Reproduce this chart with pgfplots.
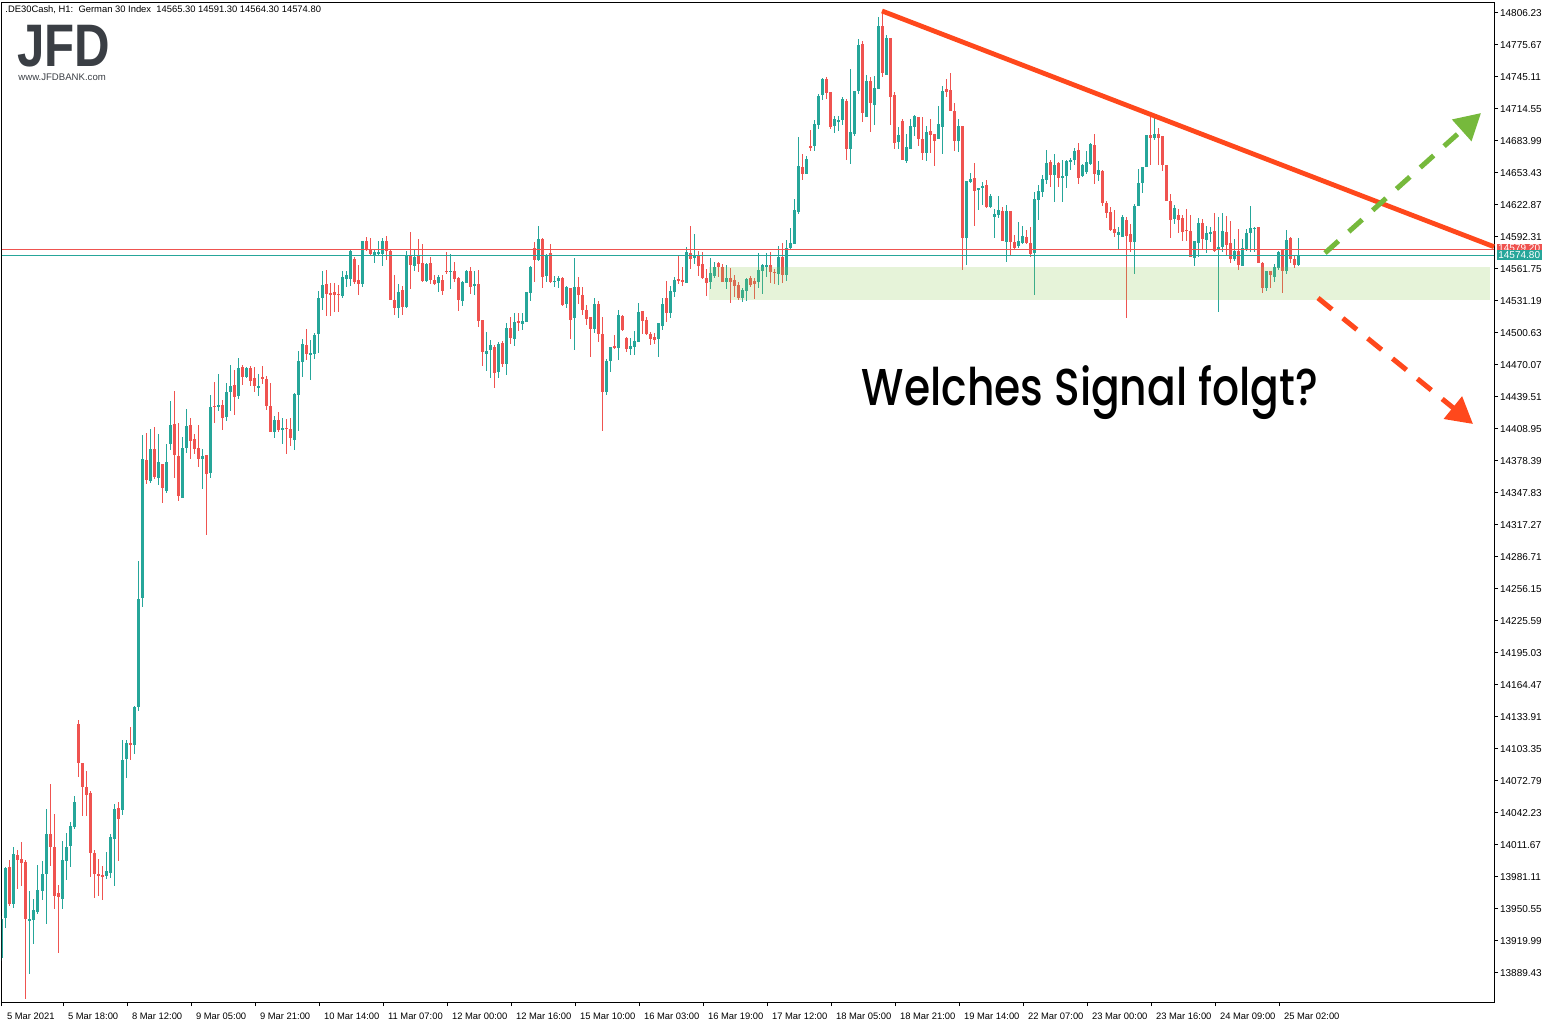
\documentclass[border=0pt]{standalone}
\usepackage{pgfplots}
\pgfplotsset{compat=1.18}
\usepackage{pgfplotstable}
\usepackage{fontspec}
\setmainfont{Liberation Sans}
\newfontfamily\poppins{Poppins}[UprightFont=* Medium]
\usetikzlibrary{arrows.meta}
\definecolor{bull}{RGB}{38,166,154}
\definecolor{bear}{RGB}{239,83,80}
\definecolor{trend}{RGB}{255,72,28}
\definecolor{upgreen}{RGB}{118,185,60}
\definecolor{zone}{RGB}{140,200,80}
\definecolor{logo}{RGB}{58,62,68}

% hourly candles, x = bar index
\pgfplotstableread{
x o h l c
0 13903 13944 13901 13941
1 13942 13990 13932 13989
2 13990 13997 13953 13955
3 13955 14009 13951 14003
4 14002 14007 13969 13997
5 13998 14014 13972 13994
6 13995 13997 13864 13941
7 13939 13967 13888 13941
8 13940 13960 13917 13949
9 13947 13992 13945 13968
10 13967 13996 13959 13984
11 13984 14046 13936 14022
12 14022 14070 13991 14009
13 14009 14041 13950 13963
14 13965 13973 13908 13962
15 13960 14015 13950 13997
16 13996 14023 13978 14009
17 14010 14033 13990 14029
18 14029 14058 14027 14052
19 14127 14131 14076 14090
20 14090 14090 14039 14067
21 14067 14082 14039 14059
22 14061 14063 13981 14004
23 14004 14007 13961 13984
24 13984 13998 13963 13982
25 13982.5 13991 13959 13981
26 13982 14005 13979 13987
27 13985 14022 13980 14019
28 14017 14051 13972 14046
29 14047 14052 13996 14036
30 14045 14112 14040 14093
31 14093 14112 14075 14109
32 14109 14124 14092 14107
33 14107 14144 14098 14143
34 14143 14283 14139 14246
35 14247 14403 14239 14380
36 14379 14405 14356 14360
37 14359 14409 14357 14390
38 14390 14411 14361 14363
39 14362 14404 14355 14377
40 14375 14375 14338 14352
41 14349 14394 14348 14377
42 14394 14435 14389 14413
43 14413 14445 14362 14384
44 14383 14414 14340 14345
45 14343 14401 14343 14391
46 14391 14428 14386 14412
47 14413 14419 14380 14397
48 14399 14404 14385 14390
49 14391 14413 14372 14380
50 14380 14390 14351 14383
51 14384 14384 14307 14366
52 14367 14441 14362 14430
53 14431 14454 14414 14430
54 14430 14461 14426 14432
55 14432 14436 14408 14419
56 14420 14453 14416 14444
57 14444 14470 14426 14450
58 14451 14465 14422 14439
59 14440 14476 14437 14467
60 14468 14470 14451 14458
61 14458 14468 14457 14467
62 14467 14469 14450 14455
63 14457 14468 14444 14450
64 14448 14461 14440 14450
65 14458 14469 14452 14457
66 14456 14459 14427 14431
67 14431 14453 14406 14406
68 14406 14421 14400 14417
69 14417 14425 14406 14408
70 14408 14419 14394 14410
71 14410 14418 14385 14409
72 14409 14419 14392 14400
73 14398 14443 14389 14442
74 14441 14483 14407 14474
75 14473 14495 14458 14490
76 14489 14504 14475 14480
77 14479 14494 14455 14481
78 14480 14500 14476 14498
79 14499 14540 14481 14534
80 14534 14560 14522 14546
81 14547 14561 14517 14538
82 14538.5 14548 14517 14537
83 14539.5 14548 14520 14537
84 14537.5 14546 14520 14537
85 14536 14560 14534 14554
86 14552 14560 14544 14556
87 14552 14581 14545 14579
88 14571 14573 14547 14549
89 14551 14565 14537 14547
90 14547 14588 14544 14588
91 14588 14592 14579 14580
92 14581 14591 14575 14576
93 14574 14581 14567 14578
94 14576 14588 14575 14578
95 14576 14591 14564 14588
96 14588 14593 14570 14579
97 14579 14581 14532 14532
98 14532 14556 14518 14524
99 14524 14547 14515 14540
100 14541 14545 14518 14525
101 14525 14579 14524 14574
102 14574 14597 14542 14565
103 14564 14580 14560 14573
104 14574 14590 14559 14566
105 14567 14585 14549 14550
106 14550 14567 14549 14566
107 14567 14573 14547 14551
108 14551 14556 14546 14547
109 14548 14556 14540 14554
110 14551 14556 14537 14541
111 14560 14578 14557 14559
112 14559 14576 14542 14560
113 14559.5 14568 14549 14552
114 14553 14554 14521 14532
115 14531 14550 14526 14549
116 14548 14560.5 14548 14559.5
117 14559.5 14563.3 14537.5 14544.5
118 14545.5 14559.5 14536.6 14547
119 14547 14560.5 14506 14512
120 14512.7 14512.7 14469 14482.4
121 14480.5 14501.2 14464.3 14483.1
122 14484 14493.6 14457.3 14488.8
123 14487.2 14488.8 14448 14462.4
124 14463.3 14491.7 14457.6 14489.8
125 14490.7 14492.6 14468.1 14470.9
126 14470.9 14509.8 14460.5 14505
127 14505 14515.6 14490.1 14495.5
128 14494.8 14519.4 14487.9 14510.8
129 14511.7 14519.4 14502.5 14510.1
130 14509.2 14519.4 14503.1 14511.7
131 14511.1 14539.5 14510.8 14539.5
132 14538.8 14564.3 14531.1 14563.6
133 14581.5 14587.2 14549.3 14570.3
134 14570 14602.5 14569 14590.1
135 14590.1 14591 14543.3 14554.1
136 14554.7 14575.7 14549 14575.1
137 14576.7 14585.3 14548 14549
138 14549.3 14554.7 14544.5 14550
139 14550.2 14554.7 14543.6 14552.8
140 14552.8 14553.8 14526.1 14527
141 14528 14545.2 14524.2 14544.2
142 14543.3 14543.3 14494.6 14512.7
143 14514.6 14572 14484 14544.2
144 14544.2 14553.8 14528 14536.6
145 14536.6 14544.2 14517.5 14522.2
146 14522.2 14527 14507.9 14513.6
147 14515.6 14515.6 14477.4 14504.4
148 14504.4 14533.7 14500.3 14528
149 14528 14530.9 14491.7 14499.6
150 14499.3 14515.6 14407 14443.9
151 14443.9 14475.4 14441.3 14473.5
152 14473.8 14486.9 14463.3 14486.9
153 14487.9 14498.4 14485 14486.6
154 14486.2 14522.2 14474.8 14517.5
155 14516.5 14517.5 14502.2 14503.1
156 14495.5 14496.7 14482.4 14485.3
157 14485.3 14495.5 14479.3 14487.9
158 14487.2 14502.2 14479.6 14492.6
159 14492 14528.9 14492 14520.3
160 14521.3 14521.3 14499.3 14512
161 14513 14515.6 14498.7 14499.3
162 14499.3 14501.2 14489.1 14494.8
163 14496.5 14500.3 14489.8 14493.9
164 14494.8 14509.8 14477.6 14509.8
165 14507.3 14533.7 14503.4 14528
166 14533.7 14550 14511.1 14519.7
167 14519.7 14545.2 14514.6 14540.4
168 14539.7 14553.8 14535 14550.9
169 14551.9 14574.8 14547.4 14550.2
170 14550.9 14563.3 14545.5 14549
171 14548.3 14582.4 14548 14577.6
172 14576.7 14602.5 14561.7 14571
173 14572.2 14594.9 14566.5 14573.8
174 14573.8 14578.6 14555 14564.6
175 14566.2 14577.6 14552.1 14552.8
176 14552.8 14561.4 14535.9 14548.3
177 14549.3 14572 14542.6 14557.6
178 14555 14568.1 14553.1 14563.3
179 14567.1 14568.1 14554.1 14563.3
180 14563.3 14566.2 14549.3 14549.3
181 14549.3 14565.2 14542.6 14552.8
182 14552.8 14562.4 14529.2 14549.3
183 14550.9 14555.7 14535 14545.2
184 14546.1 14549 14531.8 14534
185 14534 14543.3 14530.2 14541.3
186 14540.7 14553.1 14531.1 14551.9
187 14552.8 14554.7 14544.5 14546.1
188 14550 14553.1 14533 14547.4
189 14549.3 14576.7 14543.6 14560.5
190 14559.8 14566.2 14537.8 14565.2
191 14564.3 14576.7 14554.1 14565.2
192 14565.2 14577.6 14548.3 14558.8
193 14558.8 14561.4 14546.8 14557.9
194 14556.9 14583.4 14546.4 14572.9
195 14572.9 14586.2 14547.8 14556
196 14556 14589.1 14550.2 14581.5
197 14581.8 14600.6 14580.8 14586.2
198 14585.6 14628.3 14585.6 14617.8
199 14616.1 14687.5 14614.2 14659.8
200 14658.9 14671.3 14646.7 14652.5
201 14652.5 14669.6 14652.5 14666.5
202 14678.9 14694.2 14674.4 14678
203 14679.2 14703.7 14674.4 14699.9
204 14699.2 14728.6 14695.4 14726.7
205 14727.9 14744.1 14723.1 14742.9
206 14742.9 14744.8 14724.1 14729.8
207 14730.5 14730.5 14695.4 14697.3
208 14698.3 14707.6 14691.6 14704.7
209 14702.1 14707.6 14693.5 14703.7
210 14704 14725.7 14699.2 14723.8
211 14721.9 14723.8 14665.5 14676.3
212 14676.3 14752.5 14662 14692.3
213 14690.7 14731.4 14688.7 14731.4
214 14731.4 14781.1 14728.9 14775.4
215 14776.3 14779.2 14702.1 14710.7
216 14706.9 14746.7 14706.9 14741
217 14741 14744.8 14692.6 14720.3
218 14718.4 14745.8 14699.2 14734.3
219 14733.6 14802.1 14733.6 14793.5
220 14793.5 14807.9 14745.1 14748.9
221 14747 14784.9 14747 14782.1
222 14782.1 14782.1 14699.2 14726
223 14727.6 14730.5 14676.3 14682.1
224 14683 14697 14676.3 14689.4
225 14702.8 14704.7 14665.8 14665.8
226 14664.9 14690.4 14663 14678
227 14676.3 14704.7 14676.3 14698
228 14697.3 14708.5 14688.7 14707.6
229 14706.6 14706.6 14679.2 14685.9
230 14685.6 14706.6 14665.8 14672.5
231 14672.5 14698 14664.9 14692.3
232 14693.2 14704.7 14672.5 14689.7
233 14690.4 14690.4 14660.1 14684
234 14685.9 14717.1 14685.9 14699.9
235 14697.3 14736.2 14671.5 14731.4
236 14733.3 14742.9 14726 14730.8
237 14732.4 14748.6 14712.6 14712.6
238 14712.6 14720 14674.4 14684
239 14684 14704.7 14673.5 14698
240 14698 14698 14560.7 14591.3
241 14591.3 14645.5 14565.5 14645.5
242 14644.8 14653.1 14643.8 14647.4
243 14648.3 14662.7 14602.8 14636.2
244 14637.2 14638.8 14618.1 14638.8
245 14639.1 14644.5 14622.8 14640.7
246 14641.7 14646.4 14620 14621
247 14620.6 14633.1 14619.4 14631.2
248 14611.4 14618.7 14591.3 14614
249 14613.3 14631.2 14610.4 14617.8
250 14616.8 14620.6 14588.4 14588.4
251 14587.5 14622.5 14568.4 14616.8
252 14616.8 14616.8 14575.1 14587.5
253 14587.2 14593.9 14580.8 14581.8
254 14583.7 14606.3 14581.8 14588.2
255 14586.5 14602.5 14585.6 14593
256 14592 14598.7 14585.6 14586.5
257 14586.5 14601.8 14573.2 14576
258 14577 14635.3 14536.9 14628.6
259 14627.6 14642 14608.5 14635.9
260 14635.3 14651.2 14630.5 14647.4
261 14646.7 14675.1 14642.9 14662.7
262 14663.6 14665.5 14640 14651.2
263 14651.2 14671.5 14625.7 14660.8
264 14662.7 14663.6 14640 14648.6
265 14648.6 14665.5 14625.7 14650.2
266 14650.2 14665.5 14639.1 14664.6
267 14664.9 14667.7 14656 14665.5
268 14665.5 14677 14660.8 14674.1
269 14675.1 14681.8 14642.9 14648.6
270 14650.2 14661.7 14649.6 14660.8
271 14654.1 14674.1 14652.2 14663.6
272 14661.4 14681.8 14660.8 14680.8
273 14680.1 14690.4 14642.9 14652.2
274 14651.5 14664.6 14645.8 14656
275 14655.3 14656 14621.9 14624.7
276 14624.7 14626.7 14610.4 14615.2
277 14615.9 14620.9 14597.7 14598.7
278 14599.6 14618.1 14592.3 14596.1
279 14594.2 14601.8 14579.9 14596.8
280 14592.3 14613 14591.7 14611.1
281 14608.5 14611.1 14514.9 14593
282 14594.9 14604.4 14578 14587.5
283 14587.5 14623.8 14556.9 14621.9
284 14621.9 14656.9 14621.9 14643.8
285 14643.8 14658.9 14634.3 14658.9
286 14658.9 14689.4 14658.6 14689.4
287 14689.4 14707.6 14660.8 14686.5
288 14686.5 14707.6 14684.6 14690.4
289 14690.4 14696.1 14660.8 14686.5
290 14688.5 14688.5 14655 14660.8
291 14660.8 14660.8 14626.7 14626.7
292 14626.7 14633.1 14591.3 14608.5
293 14609.5 14622.5 14604.7 14619.7
294 14613 14618.7 14596.1 14608.5
295 14610.1 14613 14588.4 14597
296 14599 14618.7 14588.4 14598
297 14597.7 14613 14573.2 14573.2
298 14572.2 14588.4 14564.6 14588.4
299 14586.5 14610.1 14573.2 14605.3
300 14605.3 14609.2 14580.8 14590.4
301 14589.4 14602.5 14577 14595.8
302 14594.9 14601.5 14587.5 14596.8
303 14597.7 14614.9 14578 14578.9
304 14580.8 14611.1 14520.6 14582.7
305 14582.7 14614.9 14578 14597.7
306 14596.8 14612 14575.1 14584.6
307 14586.5 14607.3 14567.4 14571.3
308 14571.3 14590.1 14569.3 14578.9
309 14578.9 14599.9 14560.7 14565.5
310 14564.6 14590.4 14564.6 14581.8
311 14580.8 14599.9 14578.6 14595.8
312 14596.1 14621.6 14578 14600.6
313 14600.3 14601.8 14578 14600.9
314 14601.8 14601.8 14567.4 14567.4
315 14567.4 14568.4 14538.8 14543.6
316 14543.6 14559.5 14540.7 14559.5
317 14559.5 14559.5 14543.6 14556
318 14554.1 14566.2 14549.3 14563.3
319 14562.6 14578.9 14560.7 14578
320 14579.9 14579.9 14538.8 14559.8
321 14559.8 14599 14556.9 14589.4
322 14591.3 14592 14567.4 14571.3
323 14571.3 14575.1 14562.6 14565.5
324 14565.3 14591.3 14564.3 14574.8
}\candles

\begin{document}
\begin{tikzpicture}
\path[use as bounding box] (-1pt,-11.5pt) rectangle (775pt,501pt);
\begin{axis}[
    at={(0pt,0pt)}, anchor=south west,
    scale only axis, width=746pt, height=499.65pt,
    xmin=0, xmax=373, ymin=13861.3, ymax=14815.8,
    clip mode=individual,
    axis line style={black, line width=0.5pt},
    ytick pos=right, yticklabel pos=right,
    xtick pos=bottom,
    tick align=outside,
    major tick length=2pt,
    tick style={black, line width=0.5pt},
    ytick={14806.23,14775.67,14745.11,14714.55,14683.99,14653.43,14622.87,14592.31,14561.75,14531.19,14500.63,14470.07,14439.51,14408.95,14378.39,14347.83,14317.27,14286.71,14256.15,14225.59,14195.03,14164.47,14133.91,14103.35,14072.79,14042.23,14011.67,13981.11,13950.55,13919.99,13889.43},
    yticklabels={14806.23,14775.67,14745.11,14714.55,14683.99,14653.43,14622.87,14592.31,14561.75,14531.19,14500.63,14470.07,14439.51,14408.95,14378.39,14347.83,14317.27,14286.71,14256.15,14225.59,14195.03,14164.47,14133.91,14103.35,14072.79,14042.23,14011.67,13981.11,13950.55,13919.99,13889.43},
    xtick={0,15.25,31.25,47.25,63.25,79.25,95.25,111.25,127.25,143.25,159.25,175.25,191.25,207.25,223.25,239.25,255.25,271.25,287.25,303.25,319.25},
    xticklabels={5 Mar 2021,5 Mar 18:00,8 Mar 12:00,9 Mar 05:00,9 Mar 21:00,10 Mar 14:00,11 Mar 07:00,12 Mar 00:00,12 Mar 16:00,15 Mar 10:00,16 Mar 03:00,16 Mar 19:00,17 Mar 12:00,18 Mar 05:00,18 Mar 21:00,19 Mar 14:00,22 Mar 07:00,23 Mar 00:00,23 Mar 16:00,24 Mar 09:00,25 Mar 02:00},
    ticklabel style={font=\fontsize{5}{6}\selectfont},
    yticklabel style={anchor=west, xshift=-2.5pt},
    xticklabel style={anchor=north west, xshift=-1pt, font=\fontsize{4.7}{6}\selectfont},
  ]
  % wicks
  \addplot[draw=none, mark=none, forget plot, restrict expr to domain={\thisrow{c}-\thisrow{o}}{0:10000},
    error bars/.cd, y dir=both, y explicit, error mark=none,
    error bar style={draw=bull, line width=0.5pt}]
    table[x=x, y expr={(\thisrow{h}+\thisrow{l})/2}, y error expr={(\thisrow{h}-\thisrow{l})/2}] {\candles};
  \addplot[draw=none, mark=none, forget plot, restrict expr to domain={\thisrow{o}-\thisrow{c}}{0.0001:10000},
    error bars/.cd, y dir=both, y explicit, error mark=none,
    error bar style={draw=bear, line width=0.5pt}]
    table[x=x, y expr={(\thisrow{h}+\thisrow{l})/2}, y error expr={(\thisrow{h}-\thisrow{l})/2}] {\candles};
  % bodies
  \addplot[draw=none, mark=none, forget plot, restrict expr to domain={\thisrow{c}-\thisrow{o}}{0:10000},
    error bars/.cd, y dir=both, y explicit, error mark=none,
    error bar style={draw=bull, line width=1.5pt}]
    table[x=x, y expr={(\thisrow{o}+\thisrow{c})/2}, y error expr={max(abs(\thisrow{c}-\thisrow{o})/2,0.5)}] {\candles};
  \addplot[draw=none, mark=none, forget plot, restrict expr to domain={\thisrow{o}-\thisrow{c}}{0.0001:10000},
    error bars/.cd, y dir=both, y explicit, error mark=none,
    error bar style={draw=bear, line width=1.5pt}]
    table[x=x, y expr={(\thisrow{o}+\thisrow{c})/2}, y error expr={max(abs(\thisrow{c}-\thisrow{o})/2,0.5)}] {\candles};

  % ask / bid lines
  \draw[bear, line width=0.5pt] (axis cs:0,14580.0) -- (axis cs:373,14580.0);
  \draw[bull, line width=0.5pt] (axis cs:0,14574.8) -- (axis cs:373,14574.8);

  % support zone
  \fill[zone, fill opacity=0.22] (axis cs:176.8,14563.0) rectangle (axis cs:372,14531.5);

  % trend line and arrows
  \draw[trend, line width=2.4pt] (axis cs:220,14807.9) -- (axis cs:373,14582.7);
  \draw[upgreen, line width=2.5pt, dash pattern=on 9pt off 7pt,
    -{Triangle[length=13pt,width=14pt]}] (axis cs:330.75,14576.7) -- (axis cs:369.75,14710.4);
  \draw[trend, line width=2.5pt, dash pattern=on 9pt off 7pt,
    -{Triangle[length=13pt,width=14pt]}] (axis cs:329,14533.7) -- (axis cs:367.75,14413.4);
\end{axis}

% price tags on the right scale
\fill[bear] (747.5pt,374.5pt) rectangle (769.75pt,379pt);
\node[white, font=\fontsize{5}{6}\selectfont, inner sep=0pt] at (758.6pt,376.8pt) {14579.20};
\fill[bull] (747.5pt,371pt) rectangle (769.75pt,376pt);
\node[white, font=\fontsize{5}{6}\selectfont, inner sep=0pt] at (758.6pt,373.5pt) {14574.80};

% header
\node[anchor=north west, inner sep=0pt, font=\fontsize{4.7}{6}\selectfont] at (1.5pt,498.5pt)
  {.DE30Cash, H1:\ \ German 30 Index\ \ 14565.30 14591.30 14564.30 14574.80};

% logo
\node[anchor=north west, inner sep=0pt, text=logo] at (7.5pt,488.5pt)
  {\scalebox{0.82}[1]{\fontsize{30}{30}\selectfont\bfseries JFD}};
\node[anchor=north west, inner sep=0pt, text=logo, font=\fontsize{4.8}{5}\selectfont] at (8pt,464.5pt)
  {www.JFDBANK.com};

% caption
\node[anchor=base, inner sep=0pt] at (544pt,298.5pt)
  {\resizebox{228pt}{20pt}{\poppins Welches Signal folgt?}};
\end{tikzpicture}
\end{document}
